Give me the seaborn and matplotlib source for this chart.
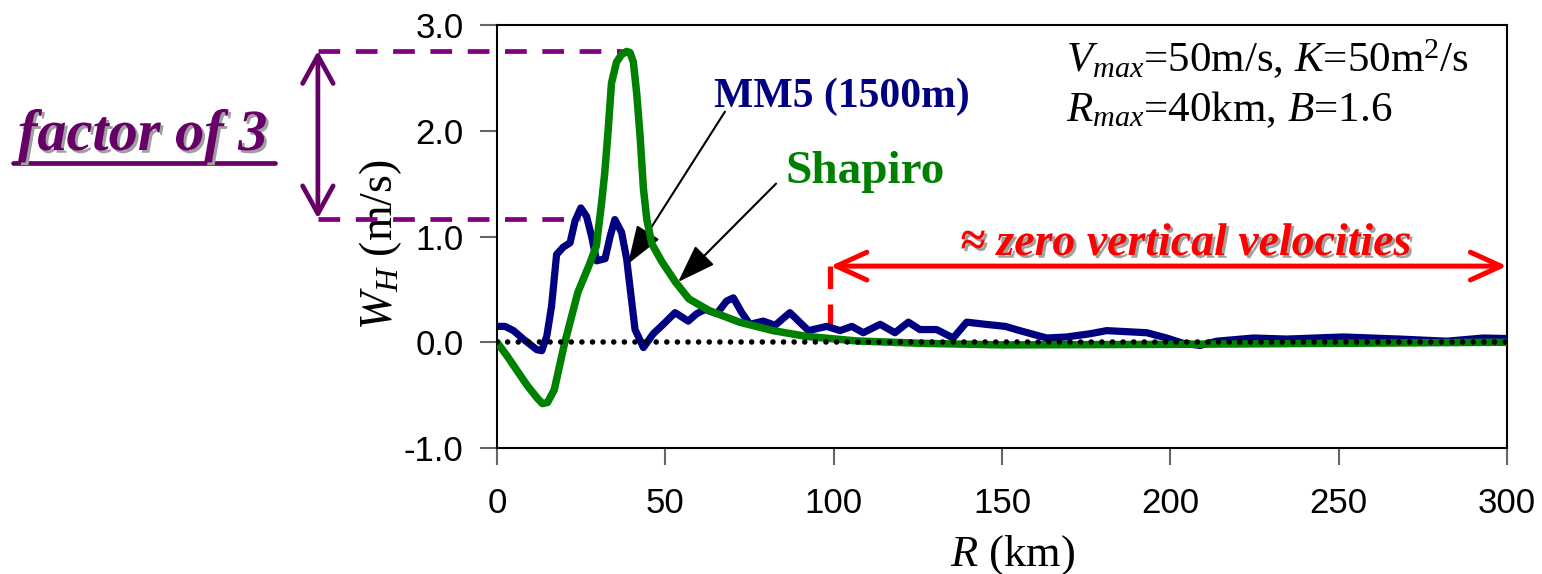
import matplotlib
matplotlib.use("Agg")
import matplotlib.pyplot as plt
import matplotlib.patheffects as pe
from matplotlib.lines import Line2D
import seaborn as sns
import numpy as np

# ---------------- data ----------------
R_mm5 = [0, 2.4, 4.9, 7.8, 11.8, 13.3, 14.8, 16.2, 17.7, 19.7, 21.7, 23.2, 24.9, 26.6,
         28.1, 29.6, 32.1, 33.6, 35.0, 37.0, 38.5, 41.0, 43.5, 46.4, 49.4, 52.9, 56.8,
         59.3, 61.8, 65.3, 68.2, 70.2, 72.7, 75.1, 79.1, 82.6, 87.0, 92.5, 97.9, 101.9,
         105.4, 108.8, 113.8, 118.2, 122.2, 125.6, 130.6, 135.5, 139.5, 145, 151, 155.3,
         163.3, 169.2, 176.1, 181.1, 193, 198.9, 203.8, 208.8, 213.8, 224.7, 234.6,
         251.4, 268.2, 282.1, 293, 300]
W_mm5 = [0.15, 0.15, 0.11, 0.03, -0.07, -0.08, 0.06, 0.34, 0.83, 0.90, 0.94, 1.15, 1.27, 1.19,
         1.00, 0.77, 0.79, 1.00, 1.16, 1.04, 0.79, 0.12, -0.05, 0.08, 0.17, 0.28, 0.20,
         0.27, 0.31, 0.27, 0.39, 0.42, 0.28, 0.17, 0.20, 0.16, 0.28, 0.11, 0.15, 0.11,
         0.15, 0.09, 0.17, 0.09, 0.19, 0.12, 0.12, 0.04, 0.19, 0.17, 0.15, 0.11,
         0.04, 0.05, 0.08, 0.11, 0.09, 0.04, -0.01, -0.03, 0.01, 0.04, 0.03,
         0.05, 0.03, 0.01, 0.04, 0.035]

R_shapiro = [0, 3, 6, 9, 12, 13.5, 15, 17, 20, 24, 27.5, 29.5, 31, 32, 33, 34, 35.5, 37,
             38.5, 39.5, 40.5, 41.5, 42.5, 43.5, 44.5, 46, 49, 53, 57, 63, 72, 82, 92,
             107, 126, 150, 200, 250, 300]
W_shapiro = [0, -0.13, -0.27, -0.41, -0.53, -0.58, -0.57, -0.45, -0.02, 0.47, 0.74, 0.91,
             1.3, 1.6, 2.0, 2.45, 2.65, 2.72, 2.75, 2.74, 2.65, 2.35, 1.95, 1.45, 1.16,
             0.93, 0.76, 0.57, 0.41, 0.30, 0.19, 0.11, 0.055, 0.012, -0.01, -0.025,
             -0.02, -0.01, 0]

x_ticks = [0, 50, 100, 150, 200, 250, 300]
y_ticks = [-1.0, 0.0, 1.0, 2.0, 3.0]

peak_shapiro = 2.756
peak_mm5 = 1.17
zero_zone = [99, 300]

# ---------------- style ----------------
sns.set_style("ticks")
plt.rcParams["font.family"] = ["Liberation Sans", "DejaVu Sans"]
plt.rcParams["axes.unicode_minus"] = False
plt.rcParams["mathtext.fontset"] = "custom"
plt.rcParams["mathtext.rm"] = "Liberation Serif"
plt.rcParams["mathtext.it"] = "Liberation Serif:italic"
plt.rcParams["mathtext.bf"] = "Liberation Serif:bold"

W, H = 1542, 574
fig = plt.figure(figsize=(W / 100, H / 100), dpi=100)
ax = fig.add_axes([497 / W, 126 / H, 1010 / W, 423 / H])

NAVY = "#000080"
GREEN = "#008000"
RED = "#ff0000"
PURPLE = "#800080"
DPURPLE = "#660066"
SERIF = "Liberation Serif"

sns.lineplot(x=R_mm5, y=W_mm5, ax=ax, color=NAVY, sort=False, estimator=None)
sns.lineplot(x=R_shapiro, y=W_shapiro, ax=ax, color=GREEN, sort=False, estimator=None)
l_mm5, l_sh = ax.lines[0], ax.lines[1]
l_mm5.set_linewidth(5.2)
l_mm5.set_zorder(3)
l_mm5.set_solid_joinstyle("round")
l_sh.set_linewidth(5.4)
l_sh.set_zorder(4)
l_sh.set_solid_joinstyle("round")

ax.axhline(0, color="black", linewidth=4.0, linestyle=(0, (0.01, 1.9)),
           dash_capstyle="round", zorder=5)

ax.set_xlim(0, 300)
ax.set_ylim(-1, 3)
ax.set_xticks(x_ticks)
ax.set_xticklabels([f"{v:d}" for v in x_ticks])
ax.set_yticks(y_ticks)
ax.set_yticklabels([f"{v:.1f}" for v in y_ticks])
ax.tick_params(axis="both", direction="out", length=12, width=1.5, color="#666666",
               labelsize=25, labelcolor="black")
ax.tick_params(axis="x", pad=16)
ax.tick_params(axis="y", pad=12)
for s in ax.spines.values():
    s.set_visible(True)
    s.set_color("black")
    s.set_linewidth(1.5)

ax.set_xlabel(r"$R$ (km)", fontfamily=SERIF, fontsize=32, color="black")
ax.xaxis.set_label_coords(0.51, -0.2)
ax.set_ylabel(r"$W_H$ (m/s)", fontfamily=SERIF, fontsize=33, color="black")
ax.yaxis.set_label_coords(-0.092, 0.48)

# ---------------- annotations ----------------
def fx(px):
    return px / W

def fy(py):
    return 1 - py / H

shadow = [pe.SimplePatchShadow(offset=(2, -2), shadow_rgbFace="#a0a0a0", alpha=1.0),
          pe.Normal()]

fig.text(fx(842), fy(107), "MM5 (1500m)", fontfamily=SERIF, fontweight="bold",
         fontsize=30, color=NAVY, ha="center", va="baseline")
fig.text(fx(865), fy(183), "Shapiro", fontfamily=SERIF, fontweight="bold",
         fontsize=34, color=GREEN, ha="center", va="baseline")

fig.text(fx(1066), fy(72), r"$V_{max}$=50m/s, $K$=50m$^{2}$/s", fontfamily=SERIF,
         fontsize=31, color="black", ha="left", va="baseline")
fig.text(fx(1066), fy(121), r"$R_{max}$=40km, $B$=1.6", fontfamily=SERIF,
         fontsize=31, color="black", ha="left", va="baseline")

# label arrows
arrow_kw = dict(arrowstyle="-|>,head_length=1.2,head_width=0.42", mutation_scale=20,
                color="black", lw=1.5, shrinkA=0, shrinkB=0)
ax.annotate("", xy=(38.9, 0.74), xytext=(67.7, 2.18), arrowprops=arrow_kw,
            annotation_clip=False)
ax.annotate("", xy=(53.8, 0.57), xytext=(82.9, 1.50), arrowprops=arrow_kw,
            annotation_clip=False)

# factor of 3 markers
ax.plot([-53.2, 39.5], [peak_shapiro, peak_shapiro], color=PURPLE, linewidth=3.4,
        linestyle=(0, (4.6, 3.3)), clip_on=False, zorder=2)
ax.plot([-53.2, 24.7], [peak_mm5, peak_mm5], color=PURPLE, linewidth=3.4,
        linestyle=(0, (4.6, 3.3)), clip_on=False, zorder=2)
ax.annotate("", xy=(-53.2, peak_shapiro), xytext=(-53.2, peak_mm5),
            arrowprops=dict(arrowstyle="<->,head_length=2.0,head_width=1.1",
                            mutation_scale=10, color=DPURPLE, lw=3.4,
                            shrinkA=0, shrinkB=0),
            annotation_clip=False)

fig.text(fx(143), fy(150), "factor of 3", fontfamily=SERIF, fontweight="bold",
         fontstyle="italic", fontsize=42, color=DPURPLE, ha="center", va="baseline",
         path_effects=shadow)
ul = Line2D([fx(13), fx(275)], [fy(163), fy(163)], transform=fig.transFigure,
            color=DPURPLE, linewidth=3.4, path_effects=shadow)
fig.add_artist(ul)

# zero vertical velocity region
ax.annotate("", xy=(zero_zone[0], 0.72), xytext=(zero_zone[1], 0.72),
            arrowprops=dict(arrowstyle="<->,head_length=2.2,head_width=1.0",
                            mutation_scale=10, color=RED, lw=3.6,
                            shrinkA=0, shrinkB=0),
            annotation_clip=False)
ax.plot([zero_zone[0], zero_zone[0]], [0.72, 0.0], color=RED, linewidth=3.8,
        linestyle=(0, (4.3, 2.9)), zorder=2)
fig.text(fx(1186), fy(255), "\u2248 zero vertical velocities", fontfamily=SERIF,
         fontweight="bold", fontstyle="italic", fontsize=33, color=RED, ha="center",
         va="baseline", path_effects=shadow)

fig.savefig("out.png", dpi=100)
